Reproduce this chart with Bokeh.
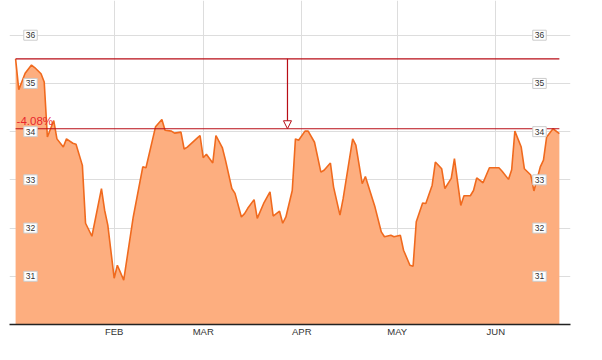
import datetime as dt
import pandas as pd
from bokeh.plotting import figure
from bokeh.models import Range1d, FixedTicker, CustomJSTickFormatter, Label, Arrow, NormalHead
from bokeh.embed import file_html
from bokeh.resources import INLINE

# ---- data ----
dates = [
    "2015-01-01", "2015-01-02", "2015-01-04", "2015-01-06", "2015-01-07", "2015-01-09",
    "2015-01-10", "2015-01-11", "2015-01-13", "2015-01-14", "2015-01-16", "2015-01-17",
    "2015-01-19", "2015-01-20", "2015-01-22", "2015-01-23", "2015-01-25", "2015-01-28",
    "2015-01-29", "2015-01-30", "2015-02-01", "2015-02-02", "2015-02-04", "2015-02-07",
    "2015-02-10", "2015-02-11", "2015-02-14", "2015-02-16", "2015-02-17", "2015-02-19",
    "2015-02-20", "2015-02-22", "2015-02-23", "2015-02-24", "2015-02-27", "2015-02-28",
    "2015-03-01", "2015-03-02", "2015-03-04", "2015-03-05", "2015-03-07", "2015-03-08",
    "2015-03-10", "2015-03-11", "2015-03-13", "2015-03-14", "2015-03-15", "2015-03-17",
    "2015-03-18", "2015-03-20", "2015-03-22", "2015-03-23", "2015-03-25", "2015-03-26",
    "2015-03-27", "2015-03-29", "2015-03-30", "2015-03-31", "2015-04-02", "2015-04-03",
    "2015-04-05", "2015-04-07", "2015-04-08", "2015-04-10", "2015-04-11", "2015-04-13",
    "2015-04-14", "2015-04-17", "2015-04-18", "2015-04-20", "2015-04-21", "2015-04-23",
    "2015-04-24", "2015-04-26", "2015-04-27", "2015-04-29", "2015-04-30", "2015-05-02",
    "2015-05-03", "2015-05-05", "2015-05-06", "2015-05-07", "2015-05-09", "2015-05-10",
    "2015-05-12", "2015-05-13", "2015-05-15", "2015-05-16", "2015-05-18", "2015-05-19",
    "2015-05-21", "2015-05-22", "2015-05-24", "2015-05-25", "2015-05-26", "2015-05-28",
    "2015-05-30", "2015-05-31", "2015-06-02", "2015-06-03", "2015-06-05", "2015-06-06",
    "2015-06-07", "2015-06-09", "2015-06-10", "2015-06-12", "2015-06-13", "2015-06-15",
    "2015-06-16", "2015-06-17", "2015-06-19", "2015-06-21",
]
prices = [
    35.51, 34.87, 35.21, 35.38, 35.33, 35.20,
    35.03, 33.89, 34.23, 33.85, 33.68, 33.85,
    33.76, 33.74, 33.30, 32.10, 31.83, 32.82,
    32.37, 32.06, 30.96, 31.23, 30.92, 32.23,
    33.27, 33.25, 34.10, 34.25, 34.03, 34.01,
    33.97, 33.99, 33.64, 33.68, 33.86, 33.92,
    33.46, 33.53, 33.35, 33.92, 33.67, 33.41,
    32.82, 32.72, 32.23, 32.30, 32.41, 32.59,
    32.20, 32.51, 32.75, 32.25, 32.35, 32.10,
    32.23, 32.78, 33.85, 33.82, 34.01, 34.01,
    33.78, 33.16, 33.20, 33.35, 32.85, 32.27,
    32.61, 33.85, 33.72, 32.92, 33.07, 32.65,
    32.44, 31.92, 31.82, 31.85, 31.82, 31.85,
    31.54, 31.23, 31.21, 32.13, 32.52, 32.51,
    32.89, 33.37, 33.23, 32.82, 33.03, 33.44,
    32.47, 32.67, 32.67, 32.78, 33.04, 32.94,
    33.25, 33.25, 33.25, 33.18, 33.01, 33.21,
    34.01, 33.68, 33.23, 33.10, 32.77, 33.27,
    33.41, 33.89, 34.06, 33.96,
]
y_ticks = [31, 32, 33, 34, 35, 36]
month_ticks = ["2015-02-01", "2015-03-01", "2015-04-01", "2015-05-01", "2015-06-01"]
ref_high = 35.51
ref_low = 34.06
change_text = "-4.08%"

# ---- styles ----
FILL = "#fdae7f"
LINE = "#f06a1e"
RED = "#b80d16"
GRID = "#dddddd"
FONT = "Liberation Sans"

x = pd.to_datetime(dates)
x0, x1 = x[0], x[-1]
y_lo, y_hi = 30.0, 36.72

p = figure(width=602, height=360, output_backend="svg", toolbar_location=None,
           x_axis_type="datetime",
           x_range=Range1d(x0 - pd.Timedelta(hours=46), x0 + pd.Timedelta(hours=174.5 * 24)),
           y_range=Range1d(y_lo, y_hi),
           min_border_left=9, min_border_right=32, min_border_top=0, min_border_bottom=36)
p.outline_line_color = None
p.background_fill_color = "white"
p.border_fill_color = "white"

p.varea(x=x, y1=y_lo, y2=prices, fill_color=FILL, fill_alpha=1.0)
p.line(x, prices, line_color=LINE, line_width=1.6)

# reference lines
p.line([x0, x1], [ref_high, ref_high], line_color=RED, line_width=1.2)
p.line([x0, x1], [ref_low, ref_low], line_color=RED, line_width=1.2)
mid = x0 + (x1 - x0) / 2
mid_ms = mid.value / 1e6
p.add_layout(Arrow(end=NormalHead(size=8, fill_color="white", line_color=RED, line_width=1),
                   x_start=mid_ms, y_start=ref_high, x_end=mid_ms, y_end=ref_low,
                   line_color=RED, line_width=1.2))
p.add_layout(Label(x=x0.value / 1e6, y=ref_low, text=change_text, x_offset=1, y_offset=2,
                   text_color="#e8262d", text_font=FONT, text_font_size="11.5px",
                   text_baseline="bottom", text_align="left"))

# axes
p.yaxis.visible = False
p.ygrid.ticker = FixedTicker(ticks=y_ticks)
p.ygrid.grid_line_color = GRID
p.xgrid.grid_line_color = GRID

month_ms = [pd.Timestamp(m).value / 1e6 for m in month_ticks]
p.xaxis.ticker = FixedTicker(ticks=month_ms)
p.xgrid.ticker = FixedTicker(ticks=month_ms)
p.xaxis.formatter = CustomJSTickFormatter(code="""
const m = ['JAN','FEB','MAR','APR','MAY','JUN','JUL','AUG','SEP','OCT','NOV','DEC'];
return m[new Date(tick).getUTCMonth()];
""")
p.xaxis.major_tick_line_color = None
p.xaxis.minor_tick_line_color = None
p.xaxis.major_tick_out = 0
p.xaxis.major_tick_in = 0
p.xaxis.minor_tick_out = 0
p.xaxis.axis_line_color = "#222222"
p.xaxis.axis_line_width = 1.5
p.xaxis.major_label_text_font = FONT
p.xaxis.major_label_text_font_size = "9.5px"
p.xaxis.major_label_text_color = "#333333"
p.xaxis.major_label_standoff = 1

# boxed y labels inside the frame, both sides
for v in y_ticks:
    for xs, off in ((p.x_range.start, 21), (p.x_range.end, -31)):
        xv = pd.Timestamp(xs).value / 1e6
        p.add_layout(Label(x=xv, y=v, x_offset=off, text=str(v),
                           text_align="center", text_baseline="middle",
                           text_font=FONT, text_font_size="8.5px", text_color="#333333",
                           background_fill_color="white", border_line_color="#cccccc",
                           padding=2))

open("out.html", "w").write(file_html(p, INLINE))
